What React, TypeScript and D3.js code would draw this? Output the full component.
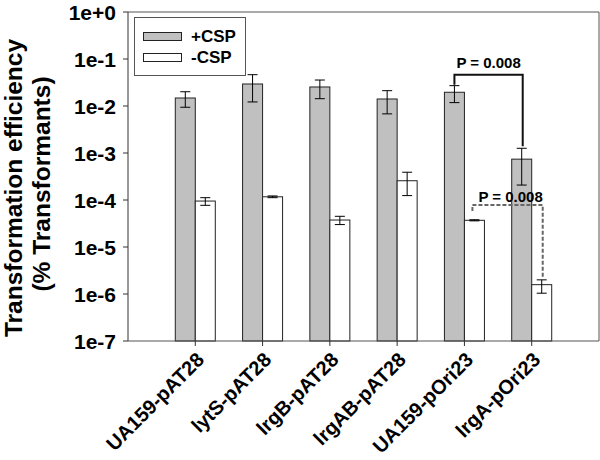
import React from "react";
import * as d3 from "d3";

const categories = ["UA159-pAT28", "lytS-pAT28", "lrgB-pAT28", "lrgAB-pAT28", "UA159-pOri23", "lrgA-pOri23"];
const plusCSP = [0.0148, 0.0294, 0.0254, 0.0141, 0.0196, 7.4e-4];
const plusHi = [0.0201, 0.0464, 0.0357, 0.0212, 0.0271, 1.26e-3];
const plusLo = [0.0094, 0.0122, 0.0143, 0.0068, 0.0118, 2.08e-4];
const minusCSP = [9.5e-5, 1.17e-4, 3.75e-5, 2.57e-4, 3.7e-5, 1.58e-6];
const minusHi = [1.12e-4, 1.22e-4, 4.5e-5, 3.9e-4, 3.8e-5, 2.0e-6];
const minusLo = [7.7e-5, 1.12e-4, 3.0e-5, 1.24e-4, 3.6e-5, 1.04e-6];
const yTicks = [1, 1e-1, 1e-2, 1e-3, 1e-4, 1e-5, 1e-6, 1e-7];
const yTickLabels = ["1e+0", "1e-1", "1e-2", "1e-3", "1e-4", "1e-5", "1e-6", "1e-7"];
const seriesNames = ["+CSP", "-CSP"];
const pLabel = "P = 0.008";

const W = 600, H = 460;
const left = 128, right = 599, top = 12, bottom = 341;
const FONT = "'Liberation Sans', Arial, Helvetica, sans-serif";
const GRAY = "#c0c0c0";

export default function App() {
  const x = d3.scaleLinear().domain([0, categories.length + 1]).range([left, right]);
  const y = d3.scaleLog().domain([1e-7, 1]).range([bottom, top]);
  const bw = 20;
  const cap = 5;

  const errBar = (cx: number, hi: number, lo: number, key: string) => (
    <g key={key} stroke="#000" strokeWidth={1}>
      <line x1={cx} x2={cx} y1={y(hi)} y2={y(lo)} />
      <line x1={cx - cap} x2={cx + cap} y1={y(hi)} y2={y(hi)} />
      <line x1={cx - cap} x2={cx + cap} y1={y(lo)} y2={y(lo)} />
    </g>
  );

  const g5 = 4, g6 = 5;
  const topLevel = y(0.046);
  const tLx = x(g5 + 1) - bw / 2, tRx = x(g6 + 1) - bw / 2 + 1;
  const lowLevel = y(7.8e-5);
  const lLx = x(g5 + 1) + bw / 2 - 2, lRx = x(g6 + 1) + bw / 2 + 1;

  return (
    <svg width={W} height={H} style={{ position: "absolute", left: 0, top: 0, background: "#fff" }} fontFamily={FONT}>
      <rect x={0} y={0} width={W} height={H} fill="#fff" />
      <line x1={left} x2={right} y1={top} y2={top} stroke="#555" strokeWidth={1} />
      <line x1={right} x2={right} y1={top} y2={bottom} stroke="#555" strokeWidth={1} />
      {categories.map((c, i) => {
        const cx = x(i + 1);
        return (
          <g key={c}>
            <rect x={cx - bw} y={y(plusCSP[i])} width={bw} height={bottom - y(plusCSP[i])} fill={GRAY} stroke="#222" strokeWidth={1} />
            <rect x={cx} y={y(minusCSP[i])} width={bw} height={bottom - y(minusCSP[i])} fill="#fff" stroke="#222" strokeWidth={1} />
            {errBar(cx - bw / 2, plusHi[i], plusLo[i], "p" + i)}
            {errBar(cx + bw / 2, minusHi[i], minusLo[i], "m" + i)}
          </g>
        );
      })}
      <line x1={left} x2={left} y1={top} y2={bottom} stroke="#333" strokeWidth={1} />
      <line x1={left} x2={right} y1={bottom} y2={bottom} stroke="#555" strokeWidth={1.2} />
      {yTicks.map((t, i) => (
        <g key={t}>
          <line x1={left - 5} x2={left} y1={y(t)} y2={y(t)} stroke="#333" />
          <text x={left - 12} y={y(t)} dy="0.36em" textAnchor="end" fontSize={21} fontWeight="bold">{yTickLabels[i]}</text>
        </g>
      ))}
      {categories.map((c, i) => (
        <g key={"xt" + c}>
          <line x1={x(i + 1)} x2={x(i + 1)} y1={bottom} y2={bottom + 5} stroke="#333" />
          <text transform={`translate(${x(i + 1) + 10},${bottom + 20}) rotate(-45)`} textAnchor="end" fontSize={20} fontWeight="bold">{c}</text>
        </g>
      ))}
      <text transform={`translate(22,188) rotate(-90)`} textAnchor="middle" fontSize={24.5} fontWeight="bold">Transformation efficiency</text>
      <text transform={`translate(50,184) rotate(-90)`} textAnchor="middle" fontSize={24.5} fontWeight="bold">(% Transformants)</text>
      <rect x={134.5} y={17.5} width={111} height={58} fill="#fff" stroke="#555" strokeWidth={1} />
      <rect x={143.5} y={32.5} width={38} height={8} fill={GRAY} stroke="#222" />
      <rect x={143.5} y={53.5} width={38} height={8} fill="#fff" stroke="#222" />
      <text x={191} y={42} fontSize={17} fontWeight="bold">{seriesNames[0]}</text>
      <text x={191} y={63} fontSize={17} fontWeight="bold">{seriesNames[1]}</text>
      <polyline points={`${tLx},${y(plusHi[g5]) - 1} ${tLx},${topLevel} ${tRx},${topLevel} ${tRx},${y(plusHi[g6]) - 2}`} fill="none" stroke="#111" strokeWidth={2} />
      <text x={(tLx + tRx) / 2} y={topLevel - 7} textAnchor="middle" fontSize={15} fontWeight="bold">{pLabel}</text>
      <polyline points={`${lLx},${lowLevel + 6} ${lLx},${lowLevel} ${lRx},${lowLevel} ${lRx},${y(minusHi[g6]) - 2}`} fill="none" stroke="#666" strokeWidth={2} strokeDasharray="4,2" />
      <text x={(lLx + lRx) / 2 + 3} y={lowLevel - 3} textAnchor="middle" fontSize={15} fontWeight="bold">{pLabel}</text>
    </svg>
  );
}
